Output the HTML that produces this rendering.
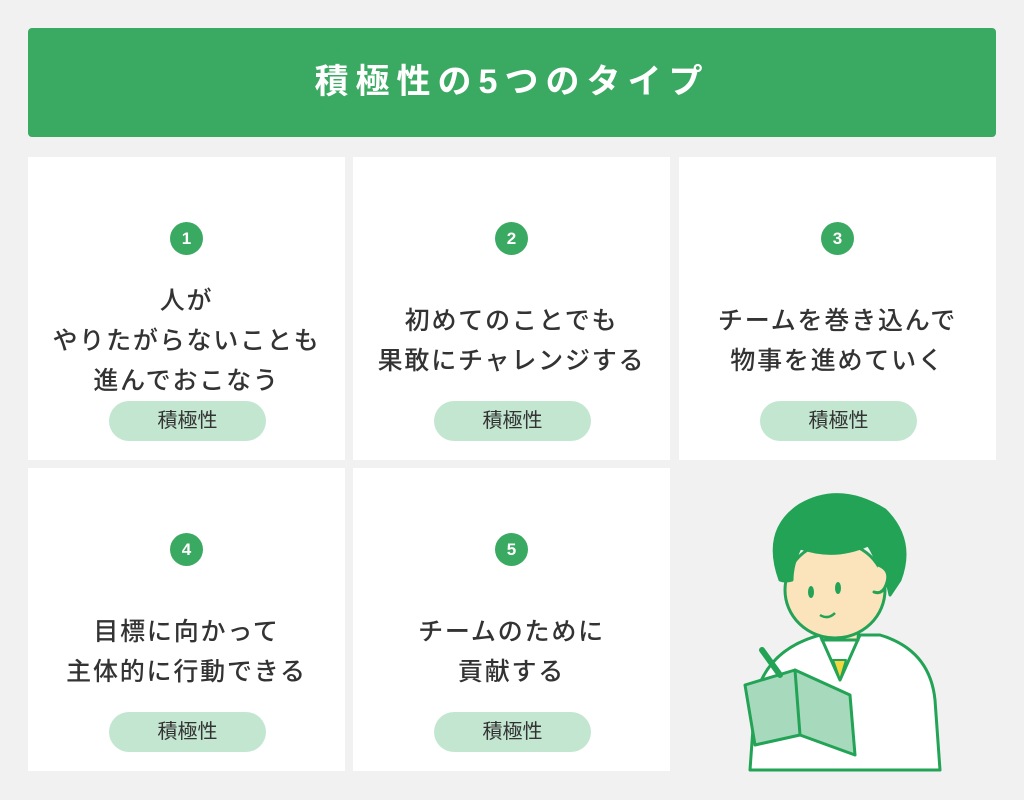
<!DOCTYPE html>
<html><head><meta charset="utf-8"><style>
body{margin:0;width:1024px;height:800px;background:#f1f1f1;font-family:"Liberation Sans","Noto Sans CJK JP",sans-serif;position:relative;overflow:hidden}
.hd{position:absolute;left:28px;top:28px;width:968px;height:109px;background:#3aa961;border-radius:4px;color:#fff;font-size:34px;font-weight:bold;text-align:center;line-height:109px;letter-spacing:7px}
.c{position:absolute;width:317px;height:303px;background:#fff}
.n{position:absolute;left:142px;top:65px;width:33px;height:33px;border-radius:50%;background:#3aa961;color:#fff;font-weight:bold;font-size:17px;text-align:center;line-height:33px}
.t{position:absolute;left:-20px;right:-20px;bottom:79px;text-align:center;font-size:25px;line-height:40px;color:#333;font-weight:500;letter-spacing:1.8px}
.p{position:absolute;left:81px;top:244px;width:157px;height:40px;border-radius:20px;background:#c3e6d1;color:#333;font-size:20px;text-align:center;line-height:40px}
</style></head><body>
<div class="hd">積極性の5つのタイプ</div>
<div class="c" style="left:28px;top:157px"><div class="n">1</div><div class="t" style="bottom:59px">人が<br>やりたがらないことも<br>進んでおこなう</div><div class="p">積極性</div></div>
<div class="c" style="left:353px;top:157px"><div class="n">2</div><div class="t">初めてのことでも<br>果敢にチャレンジする</div><div class="p">積極性</div></div>
<div class="c" style="left:679px;top:157px"><div class="n">3</div><div class="t">チームを巻き込んで<br>物事を進めていく</div><div class="p">積極性</div></div>
<div class="c" style="left:28px;top:468px"><div class="n">4</div><div class="t">目標に向かって<br>主体的に行動できる</div><div class="p">積極性</div></div>
<div class="c" style="left:353px;top:468px"><div class="n">5</div><div class="t">チームのために<br>貢献する</div><div class="p">積極性</div></div>
<svg style="position:absolute;left:700px;top:470px" width="300" height="310" viewBox="0 0 300 310">
<g stroke="#22a356" stroke-width="3" stroke-linejoin="round" stroke-linecap="round">
<path d="M50 300 L55 230 Q65 180 120 165 L180 165 Q230 180 235 230 L240 300 Z" fill="#fff"/>
<path d="M120 165 L140 210 L160 165" fill="#fff"/>
<path d="M133 190 L140 210 L146 190 Z" fill="#f3d640" stroke-width="2"/>
<path d="M120 140 L122 170 L158 170 L160 140 Z" fill="#fbe3bb"/>
<ellipse cx="135" cy="120" rx="50" ry="48" fill="#fbe3bb"/>
<path d="M80 110 Q62 60 100 35 Q140 12 185 40 Q215 70 200 110 L190 125 Q185 100 178 95 Q172 80 168 75 Q135 90 100 78 Q92 95 92 110 Q85 112 80 110 Z" fill="#22a356"/>
<path d="M178 95 Q192 100 186 115 Q182 125 174 122" fill="#fbe3bb"/>
<path d="M45 215 L95 200 L150 225 L155 285 L100 265 L55 275 Z" fill="#a7d9bc"/>
<path d="M95 200 L100 265" fill="none"/>
<path d="M62 180 L80 205" stroke-width="6"/>
</g>
<g fill="#22a356"><ellipse cx="111" cy="122" rx="3" ry="6"/><ellipse cx="138" cy="118" rx="3" ry="6"/></g>
<path d="M120 145 Q128 150 135 143" stroke="#22a356" stroke-width="2.5" fill="none"/>
</svg>
</body></html>
